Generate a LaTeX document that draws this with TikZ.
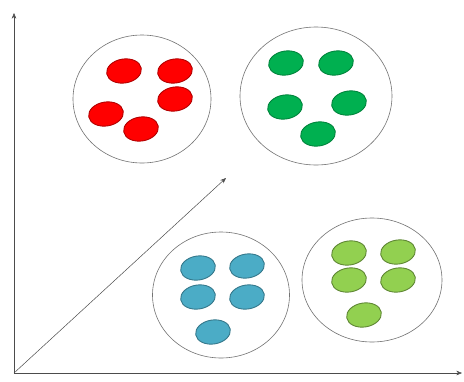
\documentclass[tikz,border=0pt]{standalone}
\usepackage{tikz}
\usetikzlibrary{positioning,arrows.meta,shapes.geometric}

\definecolor{redfill}{RGB}{255,0,0}
\definecolor{greenfill}{RGB}{0,176,80}
\definecolor{bluefill}{RGB}{75,172,198}
\definecolor{limefill}{RGB}{146,208,80}

\begin{document}
\begin{tikzpicture}[
  x=1pt, y=-1pt,
  cluster/.style={draw=black!55, ellipse, line width=0.6pt, inner sep=0pt, fill=white},
  blob/.style={ellipse, minimum width=35pt, minimum height=24pt, inner sep=0pt, rotate=9, line width=0.9pt},
  redblob/.style={blob, fill=redfill, draw=redfill!70!black},
  greenblob/.style={blob, fill=greenfill, draw=greenfill!75!black},
  blueblob/.style={blob, fill=bluefill, draw=bluefill!70!black},
  limeblob/.style={blob, fill=limefill, draw=limefill!65!black},
  axis/.style={-{Stealth[length=2mm, width=1.6mm]}, line width=0.5pt, draw=black!70}
]
\useasboundingbox[fill=white] (0,0) rectangle (464,381);

% axes
\coordinate (origin) at (14,373);
\coordinate (yend) at (14,13);
\coordinate (xend) at (462,373);
\coordinate (zend) at (226,178);
\draw[axis] (origin) -- (yend);
\draw[axis] (origin) -- (xend);
\draw[axis] (origin) -- (zend);

% red group
\node[cluster, minimum width=138pt, minimum height=128pt] (redgroup) at (142,99) {};
\node[redblob] (red1) at (124,71) {};
\node[redblob] (red2) at (175,71) {};
\node[redblob] (red3) at (175,99) {};
\node[redblob] (red4) at (106,114) {};
\node[redblob] (red5) at (141,129) {};

% green group
\node[cluster, minimum width=152pt, minimum height=138pt] (greengroup) at (316,96) {};
\node[greenblob] (green1) at (286,63) {};
\node[greenblob] (green2) at (336,63) {};
\node[greenblob] (green3) at (285,107) {};
\node[greenblob] (green4) at (349,103) {};
\node[greenblob] (green5) at (318,134) {};

% blue group
\node[cluster, minimum width=137pt, minimum height=126pt] (bluegroup) at (221,295) {};
\node[blueblob] (blue1) at (198,268) {};
\node[blueblob] (blue2) at (247,266) {};
\node[blueblob] (blue3) at (198,297) {};
\node[blueblob] (blue4) at (247,297) {};
\node[blueblob] (blue5) at (213,332) {};

% lime group
\node[cluster, minimum width=140pt, minimum height=124pt] (limegroup) at (372,280) {};
\node[limeblob] (lime1) at (349,253) {};
\node[limeblob] (lime2) at (398,252) {};
\node[limeblob] (lime3) at (349,280) {};
\node[limeblob] (lime4) at (398,280) {};
\node[limeblob] (lime5) at (364,315) {};
\end{tikzpicture}
\end{document}
